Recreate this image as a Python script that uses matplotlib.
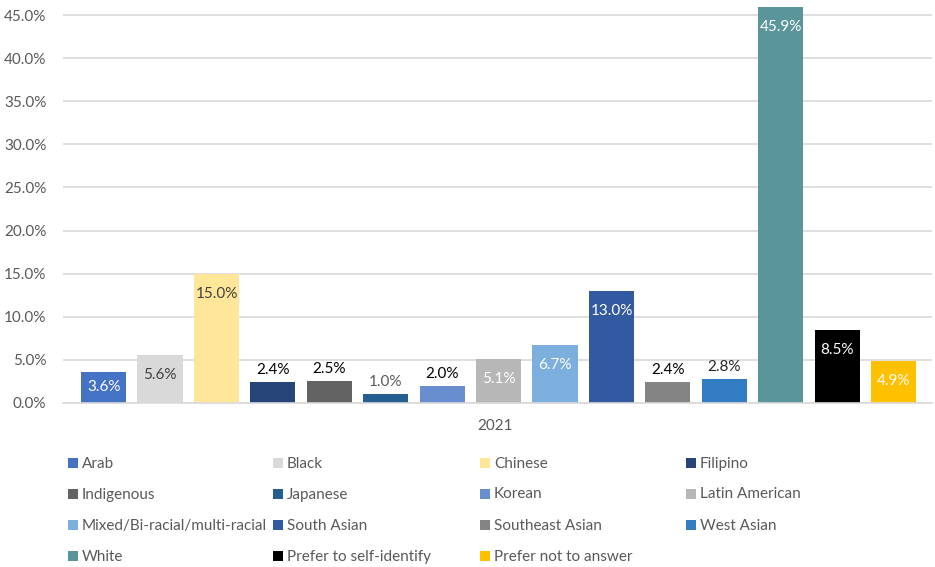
import matplotlib
matplotlib.use("Agg")
import matplotlib.pyplot as plt
from matplotlib.patches import Rectangle

plt.rcParams['font.family'] = ['Lato', 'DejaVu Sans']

categories = ["Arab", "Black", "Chinese", "Filipino", "Indigenous", "Japanese",
              "Korean", "Latin American", "Mixed/Bi-racial/multi-racial",
              "South Asian", "Southeast Asian", "West Asian", "White",
              "Prefer to self-identify", "Prefer not to answer"]
values = [3.6, 5.6, 15.0, 2.4, 2.5, 1.0, 2.0, 5.1, 6.7, 13.0, 2.4, 2.8, 45.9, 8.5, 4.9]
colors = ["#4472C4", "#D9D9D9", "#FFE699", "#264478", "#636363", "#255E91",
          "#698ED0", "#B7B7B7", "#7CAFDD", "#335AA1", "#848484", "#327DC2",
          "#5A9599", "#000000", "#FFC000"]
# label placement: True = inside the bar near its top, False = just above it
label_inside = [True, True, True, False, False, False, False, True, True,
                True, False, False, True, True, True]
label_colors = ["white", "#404040", "#404040", "black", "black", "#595959",
                "black", "white", "white", "white", "black", "#262626",
                "white", "white", "white"]
year_label = "2021"
yticks = [0, 5, 10, 15, 20, 25, 30, 35, 40, 45]

W, H = 935, 567
fig = plt.figure(figsize=(W / 100, H / 100), dpi=100)
ax_left, ax_right, ax_bottom, ax_top = 63, 932, 403, 5
ax = fig.add_axes([ax_left / W, 1 - ax_bottom / H,
                   (ax_right - ax_left) / W, (ax_bottom - ax_top) / H])

x = list(range(len(values)))
ax.bar(x, values, width=0.8, color=colors, zorder=3)

ax.set_ylim(0, 46.16)
ax.set_xlim(-0.72, len(values) - 1 + 0.68)
ax.set_yticks(yticks)
ax.set_yticklabels([f"{t:.1f}%" for t in yticks])
ax.tick_params(axis='y', length=0, labelsize=11, labelcolor="#595959", pad=12)
ax.set_xticks([])
ax.grid(axis='y', color="#D9D9D9", linewidth=1.2, zorder=0)
for s in ["top", "right", "left"]:
    ax.spines[s].set_visible(False)
ax.spines["bottom"].set_color("#D9D9D9")
ax.spines["bottom"].set_linewidth(1.2)
ax.spines["bottom"].set_zorder(4)

px_per_unit = (ax_bottom - ax_top) / 46.16
for xi, v, inside, lc in zip(x, values, label_inside, label_colors):
    txt = f"{v:.1f}%"
    if inside:
        drop = min(20 / px_per_unit, v / 2)
        ax.text(xi, v - drop, txt, ha="center", va="center",
                color=lc, fontsize=11, zorder=5)
    else:
        ax.text(xi, v + 12 / px_per_unit, txt, ha="center", va="center",
                color=lc, fontsize=11, zorder=5)

fig.text(495 / W, 1 - 426 / H, year_label, ha="center", va="center",
         color="#595959", fontsize=11)

# legend laid out in rows of four
col_x = [68, 273, 480, 686]
row_y = [463, 493.5, 525, 556]
sq = 10
for i, (name, c) in enumerate(zip(categories, colors)):
    r, cidx = divmod(i, 4)
    lx, ly = col_x[cidx], row_y[r]
    fig.add_artist(Rectangle((lx / W, 1 - (ly + sq / 2) / H), sq / W, sq / H,
                             transform=fig.transFigure, facecolor=c,
                             edgecolor="none"))
    fig.text((lx + sq + 4) / W, 1 - (ly + 1) / H, name, ha="left", va="center",
             color="#595959", fontsize=11)

fig.savefig("out.png", dpi=100, facecolor="white")
